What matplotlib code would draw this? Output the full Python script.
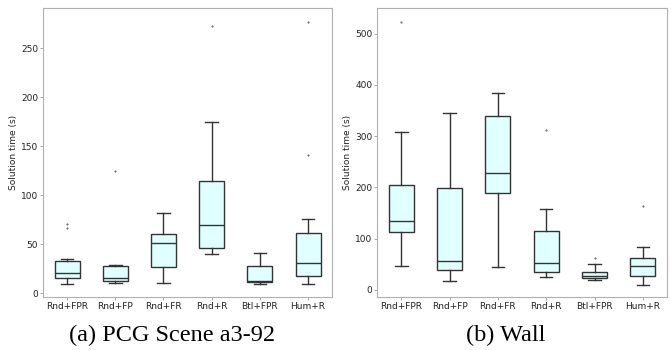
import matplotlib
matplotlib.use('Agg')
from matplotlib import pyplot as plt

# methods shown on the x axis
methods = ['Rnd+FPR', 'Rnd+FP', 'Rnd+FR', 'Rnd+R', 'Btl+FPR', 'Hum+R']

# (a) PCG Scene a3-92 - box stats
a_whislo = [9.8, 10.9, 10.9, 40.4, 9.2, 9.2]
a_q1 = [15.3, 12.9, 27.0, 46.0, 11.5, 18.0]
a_med = [21.0, 15.3, 51.5, 69.5, 12.0, 30.5]
a_q3 = [33.0, 27.8, 60.7, 115.0, 27.8, 61.7]
a_whishi = [34.6, 28.8, 82.0, 175.0, 41.4, 75.6]
a_fliers = [[67, 71], [125], [], [272.6], [], [140.7, 276.7]]

# (b) Wall
b_whislo = [46.9, 17.0, 44.3, 25.4, 18.9, 9.8]
b_q1 = [112.6, 38.4, 188.8, 34.5, 22.8, 27.3]
b_med = [134.8, 56.0, 228.0, 52.0, 28.0, 47.5]
b_q3 = [205.0, 198.6, 340.0, 114.6, 34.5, 63.0]
b_whishi = [308.6, 345.0, 385.0, 158.0, 51.4, 84.6]
b_fliers = [[523], [], [], [313], [62], [163.4]]


def make_stats(lo, q1, med, q3, hi, fl):
    stats = []
    for i in range(len(methods)):
        stats.append(dict(label=methods[i], whislo=lo[i], q1=q1[i], med=med[i],
                          q3=q3[i], whishi=hi[i], fliers=fl[i]))
    return stats


edge = '#333333'
fig = plt.figure(figsize=(6.71, 3.5), dpi=100)
ax1 = fig.add_axes([0.064, 0.151, 0.431, 0.826])
ax2 = fig.add_axes([0.562, 0.151, 0.432, 0.826])

panels = [
    (ax1, make_stats(a_whislo, a_q1, a_med, a_q3, a_whishi, a_fliers), (-4, 291), range(0, 251, 50)),
    (ax2, make_stats(b_whislo, b_q1, b_med, b_q3, b_whishi, b_fliers), (-14, 550), range(0, 501, 100)),
]

for ax, stats, ylim, yt in panels:
    ax.bxp(stats, widths=0.52, patch_artist=True,
           boxprops=dict(facecolor='#e0ffff', edgecolor=edge, linewidth=1.0),
           medianprops=dict(color=edge, linewidth=1.0),
           whiskerprops=dict(color=edge, linewidth=1.0),
           capprops=dict(color=edge, linewidth=1.0),
           flierprops=dict(marker='.', markersize=1.0, markerfacecolor='#555555',
                           markeredgecolor='#555555'))
    ax.set_xlim(0.5, 6.5)
    ax.set_ylim(*ylim)
    ax.set_yticks(list(yt))
    ax.set_ylabel('Solution time (s)', fontsize=6.5, color='#222222', labelpad=2)
    ax.tick_params(labelsize=6.5, length=2, width=0.6, color='#999999',
                   labelcolor='#222222', pad=1.5)
    for s in ax.spines.values():
        s.set_color('#b0b0b0')
        s.set_linewidth(0.8)

fig.text(0.256, 0.012, '(a) PCG Scene a3-92', family='Liberation Serif',
         fontsize=17.5, ha='center', va='bottom')
fig.text(0.753, 0.012, '(b) Wall', family='Liberation Serif',
         fontsize=17.5, ha='center', va='bottom')

fig.savefig('out.png', dpi=100)
